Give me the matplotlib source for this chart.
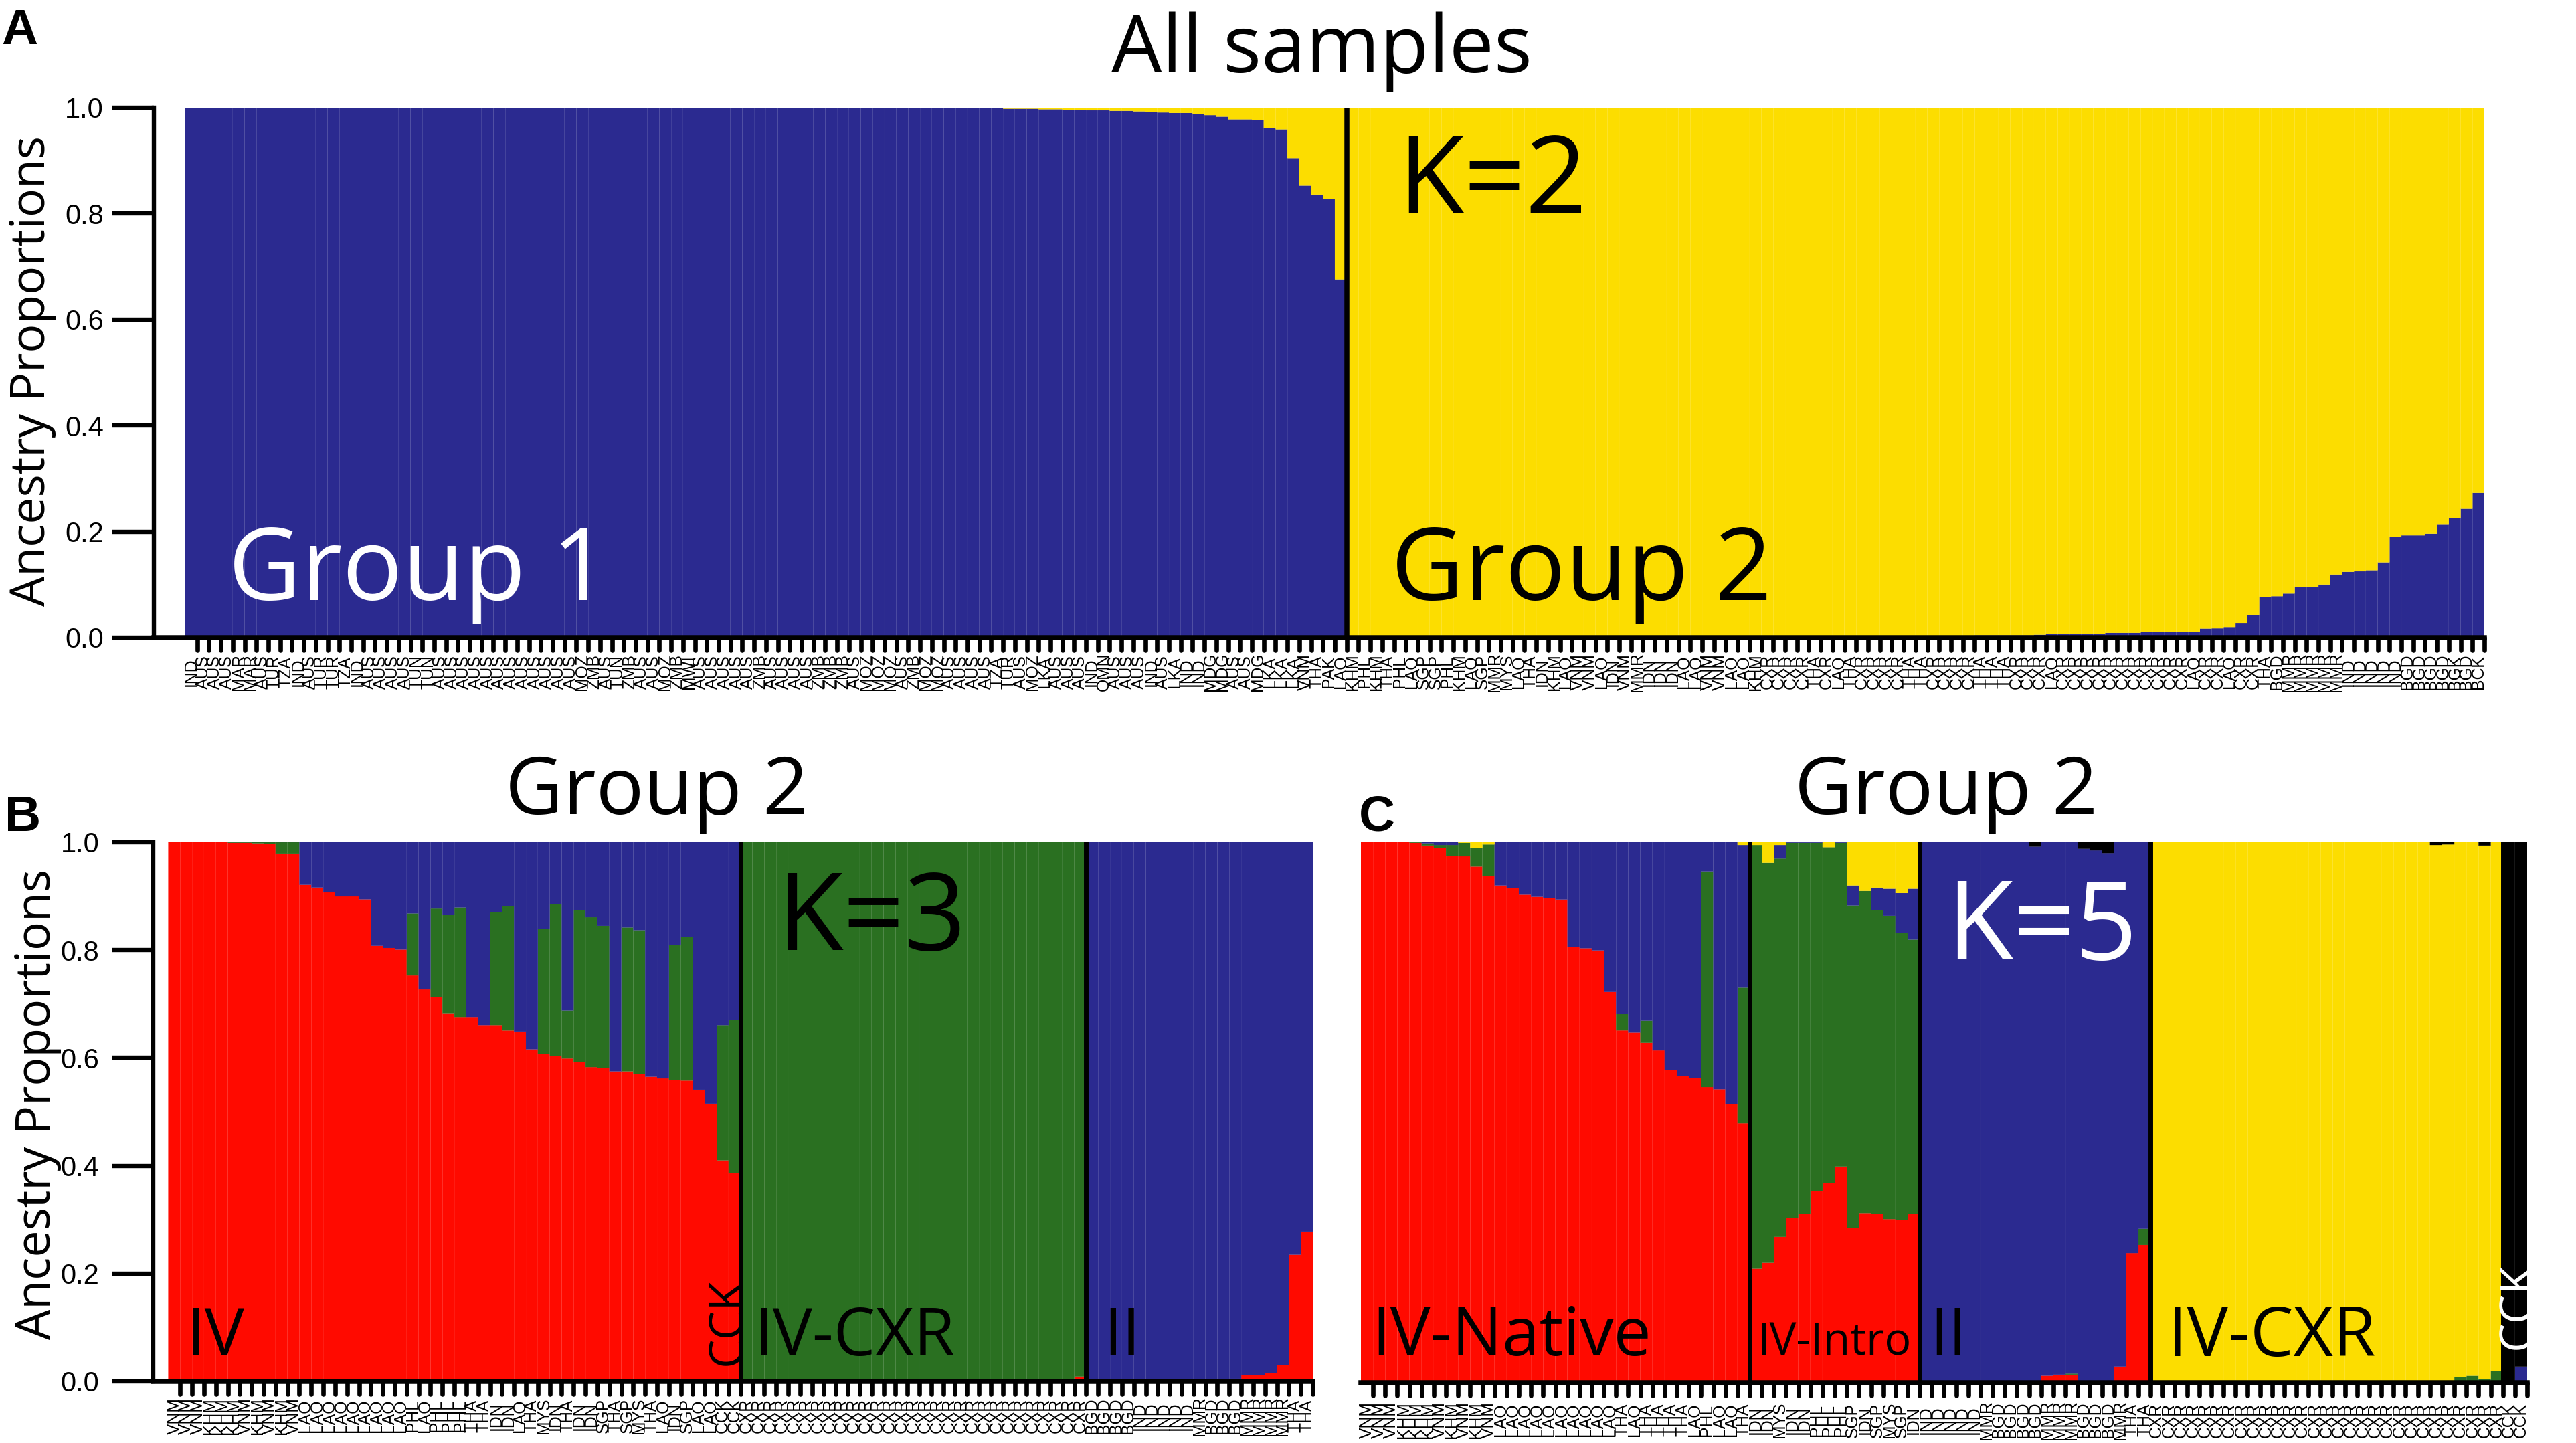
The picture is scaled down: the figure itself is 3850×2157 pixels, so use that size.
import numpy as np
import matplotlib
matplotlib.use("Agg")
import matplotlib.pyplot as plt
from matplotlib.markers import MarkerStyle, TICKDOWN

WIDTH = 3850
HEIGHT = 2157

BLUE = "#2b2a90"
YELLOW = "#fcdd00"
RED = "#ff0a00"
GREEN = "#2a7021"
BLACK = "#000000"

# Panel A, K=2
blue_group1 = [1.0] * 64 + [
    0.9995, 0.9995, 0.999, 0.999, 0.999, 0.998, 0.998, 0.998, 0.997, 0.997,
    0.996, 0.996, 0.995, 0.995, 0.994, 0.994, 0.993, 0.992, 0.991,
    0.990, 0.990, 0.988, 0.986, 0.983, 0.978, 0.978, 0.977, 0.961, 0.959,
    0.905, 0.853, 0.836, 0.828, 0.676,
]
blue_group2 = [0.0] * 48 + [
    0.001, 0.001, 0.002, 0.002, 0.003, 0.0045, 0.0045, 0.0045, 0.0045, 0.0045,
    0.0055, 0.0065, 0.0065, 0.0065, 0.0065, 0.0065, 0.009, 0.009, 0.009,
    0.0105, 0.0105, 0.0105, 0.0105,
    0.0105, 0.017, 0.0175, 0.02, 0.0265, 0.043, 0.077, 0.078, 0.083, 0.095,
    0.096, 0.10, 0.119, 0.124, 0.125, 0.127, 0.142, 0.19, 0.193, 0.193, 0.196,
    0.213, 0.225, 0.243, 0.273,
]

labels_a = (
    ["IND"] + ["AUS"] * 3 + ["MAR"] * 2
    + ["AUS", "TUR", "TZA", "IND", "AUS", "TUR", "TUR", "TZA", "IND"]
    + ["AUS"] * 4 + ["TUN"] * 2 + ["AUS"] * 12
    + ["MOZ", "ZMB", "AUS", "TUN", "ZMB", "AUS", "AUS", "MOZ", "ZMB", "MWI"]
    + ["AUS"] * 5 + ["ZMB"] + ["AUS"] * 4 + ["ZMB"] * 3 + ["AUS"] + ["MOZ"] * 3
    + ["AUS", "ZMB", "MOZ", "MOZ"] + ["AUS"] * 4
    + ["TZA", "TUR", "AUS", "MOZ", "LKA", "AUS", "AUS", "AUS", "IND", "OMN"]
    + ["AUS"] * 3 + ["IND", "AUS", "LKA", "IND", "IND", "MDG", "MDG", "AUS", "AUS", "MDG"]
    + ["LKA"] * 3 + ["VNM", "THA", "PAK", "LAO"]
    + ["KHM", "PHL", "KHM", "THA", "PHL", "LAO", "SGP", "SGP", "PHL", "KHM"]
    + ["LAO", "SGP", "MMR", "MYS", "LAO", "THA", "IDN", "KHM", "LAO", "VNM"]
    + ["VNM", "LAO", "IDN", "VNM", "MMR", "IDN", "IDN", "IDN", "LAO", "LAO"]
    + ["VNM", "VNM", "LAO", "LAO", "KHM"]
    + ["CXR"] * 4 + ["THA", "CXR", "LAO", "THA"] + ["CXR"] * 4 + ["THA"] * 2
    + ["CXR"] * 4 + ["THA"] * 3 + ["CXR"] * 3 + ["LAO"] + ["CXR"] * 11
    + ["LAO", "CXR", "CXR", "LAO", "CXR", "CXR"]
    + ["THA", "BGD"] + ["MMR"] * 5 + ["IND"] * 5 + ["BGD"] * 4 + ["BGK", "BGD", "BCK"]
)

# Panel B, K=3
red_iv = [
    1.0, 1.0, 1.0, 1.0, 1.0, 0.999, 0.999, 0.998, 0.997, 0.979, 0.979, 0.921,
    0.916, 0.907, 0.8995, 0.8995, 0.894, 0.808, 0.804, 0.801, 0.753, 0.727,
    0.713, 0.683, 0.676, 0.676, 0.661, 0.661, 0.651, 0.649, 0.616, 0.607,
    0.604, 0.599, 0.592, 0.583, 0.581, 0.575, 0.575, 0.570, 0.565, 0.562,
    0.559, 0.558, 0.541, 0.515, 0.41, 0.386,
]
green_iv = [
    0, 0, 0, 0, 0, 0.001, 0.001, 0.002, 0.003, 0.021, 0.021, 0, 0, 0, 0, 0, 0,
    0, 0, 0, 0.115, 0, 0.164, 0.182, 0.203, 0, 0, 0.209, 0.231, 0, 0, 0.232,
    0.281, 0.089, 0.282, 0.278, 0.264, 0, 0.267, 0.267, 0, 0, 0.251, 0.267,
    0, 0, 0.251, 0.285,
]
red_cxr_b = [0.0] * 28 + [0.009]
green_cxr_b = [1.0] * 28 + [0.991]
red_ii_b = [0.0] * 12 + [0.005, 0.012, 0.012, 0.016, 0.03, 0.235, 0.278]
green_ii_b = [0.0] * 19

labels_b = (
    ["VNM", "VNM", "VNM", "KHM", "KHM", "KHM", "VNM", "KHM", "VNM", "KHM", "VNM"]
    + ["LAO"] * 9
    + ["PHL", "LAO", "PHL", "PHL", "PHL", "THA", "THA", "IDN", "IDN", "LAO"]
    + ["THA", "MYS", "IDN", "THA", "IDN", "IDN", "SGP", "THA", "SGP", "MYS"]
    + ["THA", "LAO", "IDN", "SGP", "LAO", "LAO", "CCK", "CCK"]
    + ["CXR"] * 29
    + ["BGD"] * 4 + ["IND"] * 5 + ["MMR"] + ["BGD"] * 3 + ["MMR"] * 4 + ["THA"] * 2
)

# Panel C, K=5
red_native = [
    1.0, 1.0, 1.0, 1.0, 0.999, 0.994, 0.989, 0.975, 0.974, 0.955, 0.938, 0.92,
    0.915, 0.903, 0.899, 0.897, 0.894, 0.806, 0.804, 0.80, 0.723, 0.652, 0.648,
    0.629, 0.615, 0.579, 0.567, 0.564, 0.547, 0.543, 0.515, 0.48,
]
green_native = [
    0, 0, 0, 0, 0.001, 0.004, 0.006, 0.02, 0.025, 0.035, 0.058, 0, 0, 0, 0, 0,
    0, 0, 0, 0, 0, 0.03, 0, 0.041, 0, 0, 0, 0, 0.399, 0, 0, 0.251,
]
blue_native = [
    0, 0, 0, 0, 0, 0.002, 0.005, 0.005, 0, 0, 0, 0.08, 0.085, 0.097, 0.101,
    0.103, 0.106, 0.194, 0.196, 0.20, 0.277, 0.318, 0.352, 0.33, 0.385, 0.421,
    0.433, 0.436, 0.054, 0.457, 0.485, 0.264,
]
yellow_native = [0] * 8 + [0.001, 0.01, 0.004] + [0] * 20 + [0.005]

red_intro = [0.211, 0.222, 0.27, 0.305, 0.312, 0.355, 0.37, 0.40, 0.286, 0.314, 0.312, 0.303, 0.301, 0.312]
green_intro = [0.784, 0.74, 0.70, 0.694, 0.687, 0.644, 0.621, 0.599, 0.597, 0.596, 0.562, 0.561, 0.531, 0.508]
blue_intro = [0, 0, 0.025, 0.001, 0.001, 0.001, 0, 0.001, 0.037, 0, 0.042, 0.05, 0.074, 0.094]
yellow_intro = [0.005, 0.038, 0.005, 0, 0, 0, 0.009, 0, 0.08, 0.09, 0.084, 0.086, 0.094, 0.086]

red_ii_c = [0] * 10 + [0.013, 0.015, 0.015, 0, 0, 0, 0.03, 0.24, 0.255]
green_ii_c = [0] * 12 + [0.002] + [0] * 5 + [0.03]
blue_ii_c = [1, 1, 1, 1, 1, 1, 1, 1, 1, 0.992, 0.987, 0.985, 0.983, 0.988, 0.985, 0.98, 0.97, 0.76, 0.715]
black_ii_c = [0] * 9 + [0.008, 0, 0, 0, 0.012, 0.015, 0.02, 0, 0, 0]

green_cxr_c = [0] * 25 + [0.01, 0.013, 0.007, 0.022]
yellow_cxr_c = [1.0] * 23 + [0.995, 0.996, 0.99, 0.987, 0.987, 0.978]
black_cxr_c = [0] * 23 + [0.005, 0.004, 0, 0, 0.006, 0]

blue_cck = [0, 0.03]
black_cck = [1.0, 0.97]

labels_c = (
    ["VNM", "VNM", "VNM", "KHM", "KHM", "KHM", "VNM", "KHM", "VNM", "KHM", "VNM"]
    + ["LAO"] * 10
    + ["THA", "LAO", "THA", "THA", "THA", "THA", "LAO", "PHL", "LAO", "LAO", "THA"]
    + ["IDN", "IDN", "MYS", "IDN", "IDN", "PHL", "PHL", "PHL", "SGP", "IDN", "SGP", "MYS", "SGP", "IDN"]
    + ["IND"] * 5 + ["MMR"] + ["BGD"] * 4 + ["MMR"] * 3 + ["BGD"] * 3 + ["MMR"] + ["THA"] * 2
    + ["CXR"] * 29 + ["CCK"] * 2
)


# Axes placed by pixel box, x data runs in sample units so bar edges are integers
def make_axes(fig, left, right, top, bottom, bars_left, bar_w, labels, label_pad, y_pad=9):
    ax = fig.add_axes([left / WIDTH, 1 - bottom / HEIGHT, (right - left) / WIDTH, (bottom - top) / HEIGHT])
    n = len(labels)
    ax.set_xlim((left - bars_left) / bar_w, n)
    ax.set_ylim(0, 1)
    ax.patch.set_alpha(0)
    for side in ["top", "right"]:
        ax.spines[side].set_visible(False)
    ax.spines["bottom"].set_linewidth(5.4)
    ax.spines["left"].set_linewidth(4.6)

    # ticks sit on the right edge of each bar, names on the bar centre
    ax.set_xticks(np.arange(1, n + 1))
    ax.set_xticklabels([])
    ax.tick_params(axis="x", which="major", length=14, width=4.8)
    for tick in ax.xaxis.get_major_ticks():
        tick.tick1line.set_marker(MarkerStyle(TICKDOWN, capstyle="round"))
    ax.set_xticks(np.arange(n) + 0.5, labels, minor=True)
    ax.tick_params(axis="x", which="minor", length=0, pad=label_pad, labelsize=17.8)
    for lab in ax.get_xticklabels(minor=True):
        lab.set_rotation(90)
        lab.set_va("center")
        lab.set_ha("center")
        lab.set_family("Liberation Sans")

    ax.set_yticks([0, 0.2, 0.4, 0.6, 0.8, 1.0], ["0.0", "0.2", "0.4", "0.6", "0.8", "1.0"])
    ax.tick_params(axis="y", length=45, width=4.6, pad=y_pad, labelsize=30)
    for lab in ax.get_yticklabels():
        lab.set_family("Liberation Sans")
    return ax


def draw_stack(ax, layers):
    x = np.arange(len(layers[0][0])) + 0.5
    bottom = np.zeros(len(x))
    for values, color in layers:
        values = np.array(values, dtype=float)
        keep = values > 0
        # thin edge in the bar colour only leaves the faint seams the original has
        ax.bar(x[keep], values[keep], width=1.0, bottom=bottom[keep], color=color,
               edgecolor=color, linewidth=0.1, snap=False)
        bottom = bottom + values


def put_text(fig, x, y, s, size, color="black", rotation=0, family="Open Sans", weight="normal"):
    fig.text(x / WIDTH, 1 - y / HEIGHT, s, fontsize=size, color=color, rotation=rotation,
             family=family, weight=weight, ha="center", va="center")


fig = plt.figure(figsize=(WIDTH / 100, HEIGHT / 100), dpi=100)

# Panel A
ax_a = make_axes(fig, 230, 3713, 161, 953, 277, 17.71, labels_a, 37)
blue_a = np.array(blue_group1 + blue_group2)
draw_stack(ax_a, [(blue_a, BLUE), (1 - blue_a, YELLOW)])
ax_a.axvline(len(blue_group1), color=BLACK, lw=5.4)

# Panel B
ax_b = make_axes(fig, 229, 1962, 1259, 2065, 251.5, 17.82, labels_b, 37, y_pad=13)
red_b = np.array(red_iv + red_cxr_b + red_ii_b)
green_b = np.array(green_iv + green_cxr_b + green_ii_b)
draw_stack(ax_b, [(red_b, RED), (green_b, GREEN), (1 - red_b - green_b, BLUE)])
ax_b.axvline(len(red_iv), color=BLACK, lw=5)
ax_b.axvline(len(red_iv) + len(red_cxr_b), color=BLACK, lw=5)

# Panel C has no y axis of its own
ax_c = make_axes(fig, 2034, 3777, 1259, 2067, 2034, 18.16, labels_c, 40)
ax_c.spines["left"].set_visible(False)
ax_c.set_yticks([])
zeros_native = [0] * len(red_native)
zeros_intro = [0] * len(red_intro)
zeros_ii = [0] * len(red_ii_c)
zeros_cxr = [0] * len(green_cxr_c)
draw_stack(ax_c, [
    (red_native + red_intro + red_ii_c + zeros_cxr + [0, 0], RED),
    (green_native + green_intro + green_ii_c + green_cxr_c + [0, 0], GREEN),
    (blue_native + blue_intro + blue_ii_c + zeros_cxr + blue_cck, BLUE),
    (yellow_native + yellow_intro + zeros_ii + yellow_cxr_c + [0, 0], YELLOW),
    (zeros_native + zeros_intro + black_ii_c + black_cxr_c + black_cck, BLACK),
])
edges_c = np.cumsum([len(red_native), len(red_intro), len(red_ii_c), len(green_cxr_c)])
for edge in edges_c:
    ax_c.axvline(edge, color=BLACK, lw=5)

# Titles and labels
put_text(fig, 1975, 77, "All samples", 86)
put_text(fig, 982, 1186, "Group 2", 86)
put_text(fig, 2909, 1186, "Group 2", 86)
put_text(fig, 48, 554, "Ancestry Proportions", 51.5, rotation=90)
put_text(fig, 56, 1650, "Ancestry Proportions", 51.5, rotation=90)
put_text(fig, 29, 46, "A", 54, family="Liberation Sans", weight="bold")
put_text(fig, 34, 1222, "B", 54, family="Liberation Sans", weight="bold")
put_text(fig, 2058, 1222, "C", 54, family="Liberation Sans", weight="bold")

put_text(fig, 626, 858, "Group 1", 108, color="white")
put_text(fig, 2364, 858, "Group 2", 108)
put_text(fig, 2231, 277, "K=2", 116)
put_text(fig, 1303, 1378, "K=3", 116)
put_text(fig, 3052, 1392, "K=5", 117, color="white")

put_text(fig, 322, 2000, "IV", 71.5)
put_text(fig, 1089, 1976, "CCK", 50, rotation=90)
put_text(fig, 1277, 2000, "IV-CXR", 71.5)
put_text(fig, 1677, 2000, "II", 71.5)
put_text(fig, 2259, 2000, "IV-Native", 72)
put_text(fig, 2742, 2008, "IV-Intro", 48)
put_text(fig, 2912, 2000, "II", 71.5)
put_text(fig, 3395, 2000, "IV-CXR", 74)
put_text(fig, 3765, 1952, "CCK", 50, color="white", rotation=90)

fig.savefig("out.png", dpi=100)
